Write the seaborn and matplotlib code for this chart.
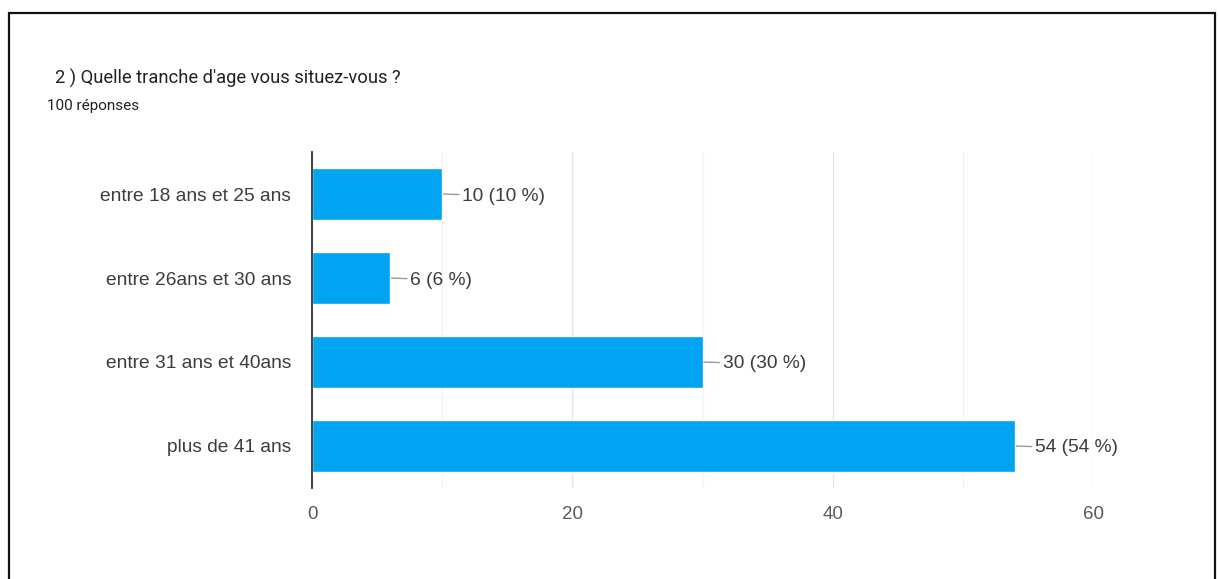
import matplotlib
matplotlib.use("Agg")
import matplotlib.pyplot as plt
import matplotlib.patches as mpatches
import seaborn as sns
import pandas as pd

# Survey answers: age brackets and counts
categories = ["entre 18 ans et 25 ans", "entre 26ans et 30 ans",
              "entre 31 ans et 40ans", "plus de 41 ans"]
counts = [10, 6, 30, 54]
total_responses = 100
x_ticks = [0, 20, 40, 60]

title = "2 ) Quelle tranche d'age vous situez-vous ?"
subtitle = f"{total_responses} réponses"

df = pd.DataFrame({"tranche": categories, "n": counts})

sns.set_theme(style="white")
plt.rcParams["font.family"] = ["Liberation Sans", "DejaVu Sans"]

fig = plt.figure(figsize=(12.18, 5.79), dpi=100)
ax = fig.add_axes([312 / 1218, 1 - 488 / 579, 781 / 1218, 336 / 579])

sns.barplot(data=df, x="n", y="tranche", orient="h", color="#00a4f2",
            saturation=1, width=0.62, ax=ax, zorder=3)

ax.set_xlim(0, 60)
ax.set_xticks(x_ticks)
ax.set_xticks([10, 30, 50], minor=True)
ax.grid(axis="x", which="major", color="#e6e6e6", linewidth=1, zorder=0)
ax.grid(axis="x", which="minor", color="#f3f3f3", linewidth=1, zorder=0)
ax.set_xlabel("")
ax.set_ylabel("")
for side in ["top", "right", "bottom"]:
    ax.spines[side].set_visible(False)
ax.spines["left"].set_color("#333333")
ax.spines["left"].set_linewidth(1.3)
ax.spines["left"].set_zorder(4)
ax.tick_params(axis="x", which="both", length=0, pad=13, labelsize=13.5,
               labelcolor="#5a5a5a")
ax.tick_params(axis="y", length=0, pad=15, labelsize=13.8, labelcolor="#3c3c3c")

# Value labels with a short leader line
for i, v in enumerate(counts):
    pct = round(v * 100 / total_responses)
    ax.annotate(f"{v} ({pct} %)", xy=(v, i), xytext=(14.5, 0),
                textcoords="offset points", ha="left", va="center_baseline",
                fontsize=13.8, color="#3c3c3c",
                arrowprops=dict(arrowstyle="-", color="#999999", lw=1,
                                shrinkA=0, shrinkB=1))

fig.text(55 / 1218, 1 - 78 / 579, title, fontsize=13.2, color="#202124",
         family=["Roboto", "DejaVu Sans"], va="center", ha="left")
fig.text(47 / 1218, 1 - 106 / 579, subtitle, fontsize=11, color="#202124",
         family=["Roboto", "DejaVu Sans"], va="center", ha="left")

# Frame around the card
frame = mpatches.Rectangle((8.5 / 1218, -0.05), (1214.5 - 8.5) / 1218,
                           1 - 12.5 / 579 + 0.05, transform=fig.transFigure,
                           fill=False, edgecolor="#111111", linewidth=1.6)
fig.patches.append(frame)

fig.savefig("out.png", dpi=100)
